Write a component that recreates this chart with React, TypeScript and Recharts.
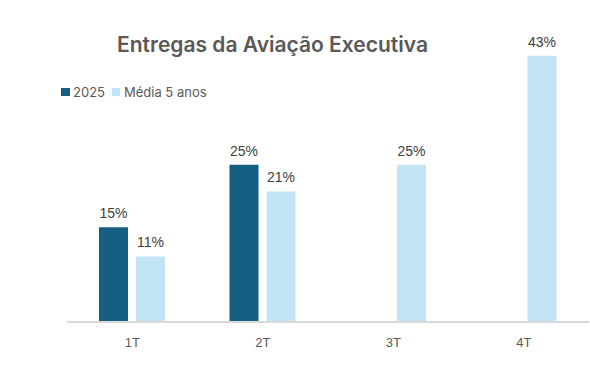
import React from 'react';
import { BarChart, Bar, XAxis, YAxis, LabelList, Legend } from 'recharts';

const categories = ['1T', '2T', '3T', '4T'];
const series2025 = [15.3, 25.4, null, null];
const seriesMedia = [10.6, 21.1, 25.4, 43];
const seriesNames = ['2025', 'Média 5 anos'];
const title = 'Entregas da Aviação Executiva';

const data = categories.map((c, i) => ({ cat: c, a: series2025[i], b: seriesMedia[i] }));

const DARK = '#156082';
const LIGHT = '#C2E4F5';
const TEXT = '#595959';

const fmt = (v: any) => (v == null ? '' : `${Math.round(Number(v))}%`);

const renderLegend = (props: any) => {
  const { payload } = props;
  return (
    <div style={{ display: 'flex', alignItems: 'center', fontFamily: 'Inter', fontSize: 13, color: TEXT }}>
      {payload.map((p: any, i: number) => (
        <div key={i} style={{ display: 'flex', alignItems: 'center', marginRight: 7 }}>
          <span style={{ display: 'inline-block', width: 8.5, height: 8.5, background: p.color, marginRight: 3.5 }} />
          <span>{p.value}</span>
        </div>
      ))}
    </div>
  );
};

export default function App() {
  return (
    <div style={{ position: 'absolute', left: 0, top: 0, width: 590, height: 382, background: '#fff' }}>
      <BarChart
        width={590}
        height={382}
        data={data}
        margin={{ top: 12.5, right: 1, bottom: 30, left: 67 }}
        barSize={29}
        barGap={8}
      >
        <text x={272.5} y={52} textAnchor="middle" fontFamily="Inter" fontWeight={600} fontSize={21} fill={TEXT}>
          {title}
        </text>
        <XAxis
          dataKey="cat"
          height={30}
          axisLine={{ stroke: '#D9D9D9', strokeWidth: 2 }}
          tickLine={false}
          tickSize={0}
          tickMargin={15.5}
          tick={{ fill: TEXT, fontSize: 13, fontFamily: 'Liberation Sans' }}
        />
        <YAxis hide domain={[0, 50]} />
        <Legend
          verticalAlign="middle"
          align="center"
          layout="horizontal"
          content={renderLegend}
          wrapperStyle={{ position: 'absolute', left: 61, top: 84, width: 'auto' }}
        />
        <Bar dataKey="a" name={seriesNames[0]} fill={DARK} isAnimationActive={false}>
          <LabelList dataKey="a" position="top" offset={9} formatter={fmt} fill="#404040" fontSize={14} fontFamily="Liberation Sans" />
        </Bar>
        <Bar dataKey="b" name={seriesNames[1]} fill={LIGHT} isAnimationActive={false}>
          <LabelList dataKey="b" position="top" offset={9} formatter={fmt} fill="#404040" fontSize={14} fontFamily="Liberation Sans" />
        </Bar>
      </BarChart>
    </div>
  );
}
